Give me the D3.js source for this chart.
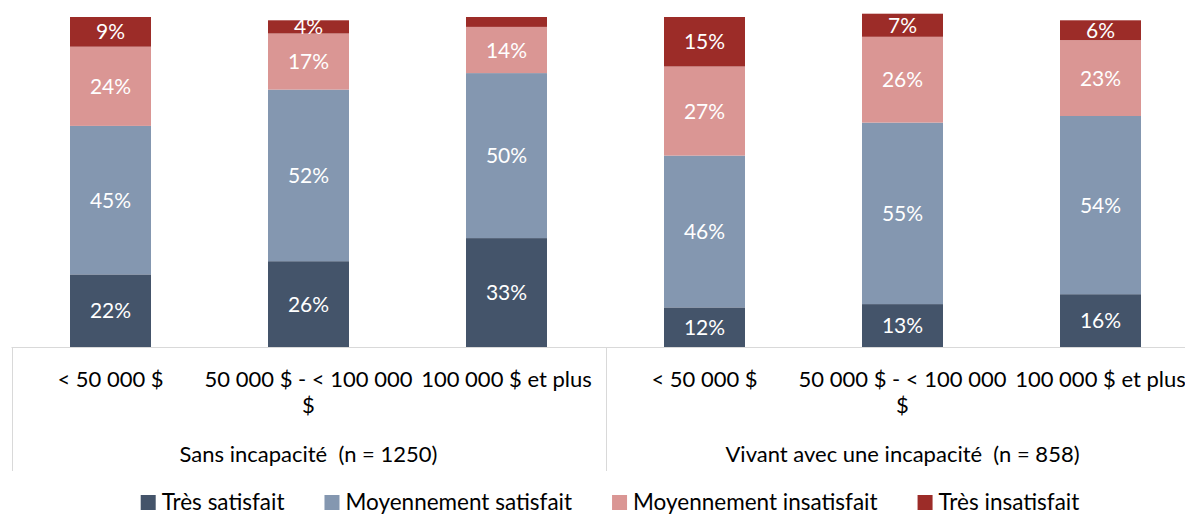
<!DOCTYPE html>
<html>
<head>
<meta charset="utf-8">
<script src="https://cdn.jsdelivr.net/npm/d3@7"></script>
<style>
  body { margin: 0; background: #fff; }
  text { font-family: Lato, "Open Sans", sans-serif; white-space: pre; }
</style>
</head>
<body>
<svg id="chart" width="1185" height="516"></svg>
<script>
const groups = ["Sans incapacité  (n = 1250)", "Vivant avec une incapacité  (n = 858)"];
const incomes = ["< 50 000 $", "50 000 $ - < 100 000 $", "100 000 $ et plus"];
const seriesNames = ["Très satisfait", "Moyennement satisfait", "Moyennement insatisfait", "Très insatisfait"];
const colors = ["#44546a", "#8497b0", "#da9694", "#9c2c28"];

// one array per series, bars in order: group 1 (3 incomes), group 2 (3 incomes)
const tresSatisfait = [22, 26, 33, 12, 13, 16];
const moyenSatisfait = [45, 52, 50, 46, 55, 54];
const moyenInsatisfait = [24, 17, 14, 27, 26, 23];
const tresInsatisfait = [9, 4, 3, 15, 7, 6];

const values = [tresSatisfait, moyenSatisfait, moyenInsatisfait, tresInsatisfait];

const rows = [];
groups.forEach((g, gi) => incomes.forEach((c, ci) => {
  const i = gi * incomes.length + ci;
  const row = {key: i, group: g, income: c};
  seriesNames.forEach((s, si) => row[s] = values[si][i]);
  rows.push(row);
}));

const svg = d3.select('#chart');

const x = d3.scaleBand()
  .domain(rows.map(d => d.key))
  .range([11.5, 1199.5])
  .paddingInner(0.591)
  .paddingOuter(0.2955);

const y = d3.scaleLinear().domain([0, 100]).range([347, 17]);

const stack = d3.stack().keys(seriesNames);
const layers = stack(rows);

// bars
const layerG = svg.append('g')
  .selectAll('g')
  .data(layers)
  .enter()
  .append('g')
  .attr('fill', (d, i) => colors[i]);

layerG.selectAll('rect')
  .data(d => d)
  .enter()
  .append('rect')
  .attr('x', d => x(d.data.key))
  .attr('width', x.bandwidth())
  .attr('y', d => y(d[1]))
  .attr('height', d => y(d[0]) - y(d[1]));

// data labels (hidden on very thin segments)
layerG.selectAll('text')
  .data(d => d.map(p => ({p, v: p[1] - p[0]})))
  .enter()
  .filter(d => d.v >= 4)
  .append('text')
  .attr('x', d => x(d.p.data.key) + x.bandwidth() / 2)
  .attr('y', d => (y(d.p[0]) + y(d.p[1])) / 2)
  .attr('dy', '0.36em')
  .attr('text-anchor', 'middle')
  .attr('fill', '#fff')
  .style('font-size', '21px')
  .text(d => d.v + '%');

// axis lines
const axisColor = '#d9d9d9';
svg.append('line')
  .attr('x1', 11.5).attr('x2', 1199.5)
  .attr('y1', 347.5).attr('y2', 347.5)
  .attr('stroke', axisColor);

const step = x.step();
const groupEdges = d3.range(groups.length + 1).map(i => 11.5 + i * step * incomes.length);
svg.selectAll('.sep')
  .data(groupEdges)
  .enter()
  .append('line')
  .attr('x1', d => Math.round(d) + 0.5).attr('x2', d => Math.round(d) + 0.5)
  .attr('y1', 347).attr('y2', 471)
  .attr('stroke', axisColor);

// category labels, wrapped to band width
function wrap(textSel, width) {
  textSel.each(function(d) {
    const t = d3.select(this);
    const words = d.income.split(' ');
    let line = [];
    let tspan = t.append('tspan').attr('x', t.attr('x')).attr('dy', 0);
    words.forEach(w => {
      line.push(w);
      tspan.text(line.join(' '));
      if (tspan.node().getComputedTextLength() > width && line.length > 1) {
        line.pop();
        tspan.text(line.join(' '));
        line = [w];
        tspan = t.append('tspan').attr('x', t.attr('x')).attr('dy', 26).text(w);
      }
    });
  });
}

svg.append('g')
  .selectAll('text')
  .data(rows)
  .enter()
  .append('text')
  .attr('x', d => x(d.key) + x.bandwidth() / 2)
  .attr('y', 387)
  .attr('text-anchor', 'middle')
  .attr('fill', '#000')
  .style('font-size', '22px')
  .call(wrap, 212);

svg.append('g')
  .selectAll('text')
  .data(groups)
  .enter()
  .append('text')
  .attr('x', (d, i) => (groupEdges[i] + groupEdges[i + 1]) / 2)
  .attr('y', 462)
  .attr('text-anchor', 'middle')
  .attr('fill', '#000')
  .style('font-size', '22px')
  .text(d => d);

// legend
const legend = svg.append('g').attr('transform', 'translate(0, 502)');
const items = legend.selectAll('g')
  .data(seriesNames)
  .enter()
  .append('g');
items.append('rect')
  .attr('width', 15).attr('height', 15)
  .attr('y', -7)
  .attr('fill', (d, i) => colors[i]);
items.append('text')
  .attr('x', 21)
  .attr('dy', '0.36em')
  .style('font-size', '22.5px')
  .text(d => d);

const gap = 40;
let widths = [];
items.each(function() { widths.push(this.getBBox().width); });
const total = d3.sum(widths) + gap * (widths.length - 1);
let cx = 610 - total / 2;
items.attr('transform', (d, i) => {
  const t = `translate(${cx}, 0)`;
  cx += widths[i] + gap;
  return t;
});
</script>
</body>
</html>
